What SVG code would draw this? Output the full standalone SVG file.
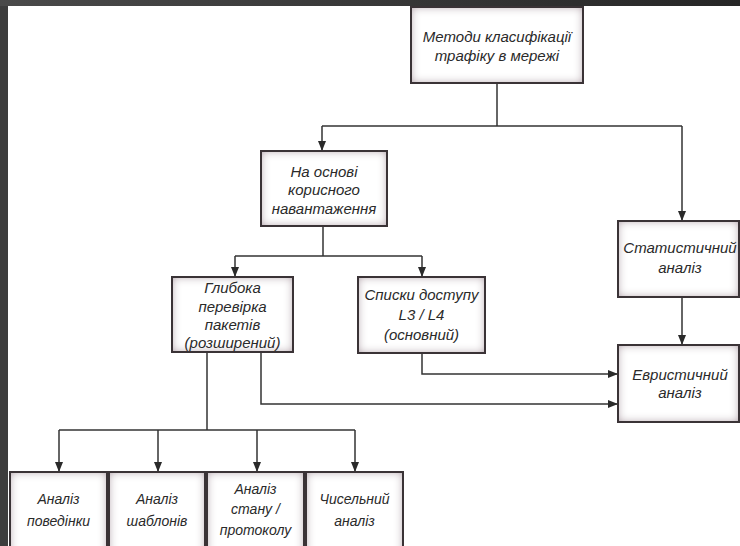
<svg xmlns="http://www.w3.org/2000/svg" width="740" height="546" viewBox="0 0 740 546">
<defs>
<linearGradient id="topband" x1="0" y1="0" x2="1" y2="0">
<stop offset="0" stop-color="#4a4a4a"/>
<stop offset="1" stop-color="#262626"/>
</linearGradient>
<filter id="inner" x="-10%" y="-15%" width="120%" height="130%">
<feFlood flood-color="#a48c99" result="c"/>
<feComposite in="c" in2="SourceAlpha" operator="out" result="o"/>
<feGaussianBlur in="o" stdDeviation="5" result="b"/>
<feComposite in="b" in2="SourceAlpha" operator="in" result="s"/>
<feMerge><feMergeNode in="SourceGraphic"/><feMergeNode in="s"/></feMerge>
</filter>
<marker id="arr" viewBox="0 0 10 8" refX="10" refY="4" markerWidth="10" markerHeight="8" markerUnits="userSpaceOnUse" orient="auto">
<path d="M0,0 L10,4 L0,8 z" fill="#2a2a2a"/>
</marker>
<style>
.fill{fill:#ffffff;filter:url(#inner)}
.edge{fill:none;stroke:#3a3336;stroke-width:2}
text{font-family:"Liberation Sans",Arial,sans-serif;font-style:italic;font-size:15px;fill:#2a2a2a;text-anchor:middle}
.sm{font-size:14px}
.con path{fill:none;stroke:#333;stroke-width:1.5}
.ar{marker-end:url(#arr)}
</style>
</defs>
<rect x="0" y="0" width="740" height="546" fill="#3d3d3d"/>
<rect x="0" y="0" width="740" height="6" fill="url(#topband)"/>
<rect x="8" y="6" width="732" height="540" fill="#ffffff"/>

<g class="con">
<path d="M497,83 V126"/>
<path d="M322,126 H682"/>
<path class="ar" d="M322,126 V151"/>
<path class="ar" d="M682,126 V221"/>
<path d="M323,226 V256"/>
<path d="M235,256 H422"/>
<path class="ar" d="M235,256 V277"/>
<path class="ar" d="M422,256 V277"/>
<path d="M207,352 V430"/>
<path d="M59,430 H355"/>
<path class="ar" d="M59,430 V472"/>
<path class="ar" d="M158,430 V472"/>
<path class="ar" d="M257,430 V472"/>
<path class="ar" d="M355,430 V472"/>
<path class="ar" d="M261,352 V404 H618"/>
<path class="ar" d="M422,353 V374 H618"/>
<path class="ar" d="M682,297 V345"/>
</g>

<g id="n-methods">
<rect class="fill" x="411" y="7" width="172" height="76"/>
<rect class="edge" x="411" y="7" width="172" height="76"/>
<text x="497" y="42">Методи класифікації</text>
<text x="497" y="61">трафіку в мережі</text>
</g>

<g id="n-payload">
<rect class="fill" x="261" y="151" width="126" height="75"/>
<rect class="edge" x="261" y="151" width="126" height="75"/>
<text x="324" y="177">На основі</text>
<text x="324" y="195">корисного</text>
<text x="324" y="214">навантаження</text>
</g>

<g id="n-dpi">
<rect class="fill" x="172" y="277" width="121" height="75"/>
<rect class="edge" x="172" y="277" width="121" height="75"/>
<text x="232.5" y="293">Глибока</text>
<text x="232.5" y="312">перевірка</text>
<text x="232.5" y="330">пакетів</text>
<text x="232.5" y="348">(розширений)</text>
</g>

<g id="n-acl">
<rect class="fill" x="358" y="277" width="127" height="76"/>
<rect class="edge" x="358" y="277" width="127" height="76"/>
<text x="421.5" y="300">Списки доступу</text>
<text x="421.5" y="320">L3 / L4</text>
<text x="421.5" y="340">(основний)</text>
</g>

<g id="n-stat">
<rect class="fill" x="618" y="221" width="121" height="76"/>
<rect class="edge" x="618" y="221" width="121" height="76"/>
<text x="680" y="253">Статистичний</text>
<text x="680" y="273">аналіз</text>
</g>

<g id="n-heur">
<rect class="fill" x="618" y="345" width="121" height="77"/>
<rect class="edge" x="618" y="345" width="121" height="77"/>
<text x="680" y="380">Евристичний</text>
<text x="680" y="398">аналіз</text>
</g>

<g id="n-behav">
<rect class="fill" x="10" y="472" width="97" height="90"/>
<rect class="edge" x="10" y="472" width="97" height="90"/>
<text class="sm" x="58.5" y="504">Аналіз</text>
<text class="sm" x="58.5" y="526">поведінки</text>
</g>

<g id="n-templ">
<rect class="fill" x="109" y="472" width="96" height="90"/>
<rect class="edge" x="109" y="472" width="96" height="90"/>
<text class="sm" x="157" y="504">Аналіз</text>
<text class="sm" x="157" y="526">шаблонів</text>
</g>

<g id="n-state">
<rect class="fill" x="207" y="472" width="97" height="90"/>
<rect class="edge" x="207" y="472" width="97" height="90"/>
<text class="sm" x="255.5" y="494">Аналіз</text>
<text class="sm" x="255.5" y="514">стану /</text>
<text class="sm" x="255.5" y="535">протоколу</text>
</g>

<g id="n-num">
<rect class="fill" x="306" y="472" width="97" height="90"/>
<rect class="edge" x="306" y="472" width="97" height="90"/>
<text class="sm" x="354.5" y="504">Чисельний</text>
<text class="sm" x="354.5" y="526">аналіз</text>
</g>
</svg>
